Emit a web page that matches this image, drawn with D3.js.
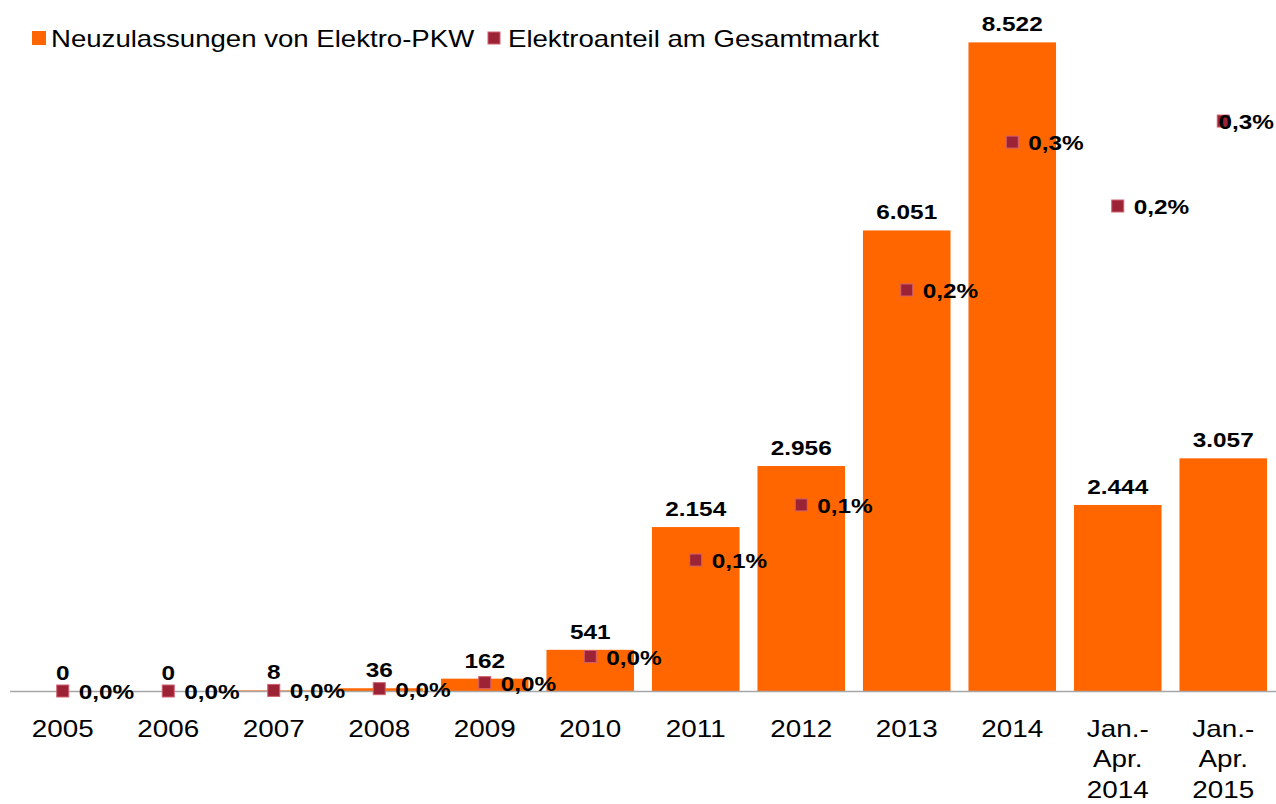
<!DOCTYPE html>
<html>
<head>
<meta charset="utf-8">
<script src="https://cdn.jsdelivr.net/npm/d3@7"></script>
<style>
  body { margin: 0; background: #fff; }
  svg { display: block; font-family: "Liberation Sans", Arial, sans-serif; }
</style>
</head>
<body>
<svg id="chart" width="1276" height="804"></svg>
<script>
// categories (multi-line labels split into lines)
var categories = ["2005", "2006", "2007", "2008", "2009", "2010", "2011", "2012", "2013", "2014", "Jan.-Apr. 2014", "Jan.-Apr. 2015"];
var categoryLines = [["2005"], ["2006"], ["2007"], ["2008"], ["2009"], ["2010"], ["2011"], ["2012"], ["2013"], ["2014"], ["Jan.-", "Apr.", "2014"], ["Jan.-", "Apr.", "2015"]];

// new registrations of electric cars
var registrations = [0, 0, 8, 36, 162, 541, 2154, 2956, 6051, 8522, 2444, 3057];
// electric share of total market, in percent
var share = [0, 0, 0.0003, 0.0012, 0.0043, 0.0177, 0.0672, 0.0955, 0.2058, 0.2817, 0.2489, 0.2925];

var legendLabels = ["Neuzulassungen von Elektro-PKW", "Elektroanteil am Gesamtmarkt"];

var W = 1276, H = 804;
var baseY = 691;
var stretch = 1.16; // reference text looks a bit wide

var de = d3.formatLocale({ decimal: ",", thousands: ".", grouping: [3], currency: ["", " €"] });
var fmtInt = de.format(",d");
var fmtPct = de.format(".1f");

var svg = d3.select("#chart");

var x = d3.scaleBand()
  .domain(categories)
  .range([10, 1276])
  .paddingInner(0.17)
  .paddingOuter(0.085);

var y = d3.scaleLinear().domain([0, 9000]).range([baseY, 6]);
var y2 = d3.scaleLinear().domain([0, 0.35]).range([baseY, 9]);

function stretchedText(sel, px, py, sx) {
  return sel.attr("transform", "translate(" + px + "," + py + ") scale(" + (sx || stretch) + ",1)");
}

// bars
svg.append("g").selectAll("rect")
  .data(categories)
  .enter()
  .append("rect")
  .attr("x", function (d) { return x(d); })
  .attr("width", x.bandwidth())
  .attr("y", function (d, i) { return y(registrations[i]); })
  .attr("height", function (d, i) { return baseY - y(registrations[i]); })
  .attr("fill", "#ff6600");

// axis line
svg.append("line")
  .attr("x1", 10).attr("x2", 1276)
  .attr("y1", baseY + 0.5).attr("y2", baseY + 0.5)
  .attr("stroke", "#a6a6a6")
  .attr("stroke-width", 1.5);

// category labels
var xl = svg.append("g").selectAll("text")
  .data(categories)
  .enter()
  .append("text")
  .attr("text-anchor", "middle")
  .attr("font-size", 24)
  .attr("fill", "#000")
  .each(function (d, i) {
    stretchedText(d3.select(this), x(d) + x.bandwidth() / 2, 737);
  });
xl.selectAll("tspan")
  .data(function (d, i) { return categoryLines[i]; })
  .enter()
  .append("tspan")
  .attr("x", 0)
  .attr("y", function (d, j) { return j * 30.5; })
  .text(function (d) { return d; });

// bar value labels
svg.append("g").selectAll("text")
  .data(categories)
  .enter()
  .append("text")
  .attr("text-anchor", "middle")
  .attr("font-size", 21)
  .attr("font-weight", "bold")
  .attr("fill", "#000")
  .each(function (d, i) {
    stretchedText(d3.select(this), x(d) + x.bandwidth() / 2, y(registrations[i]) - 11);
  })
  .text(function (d, i) { return fmtInt(registrations[i]); });

// share markers
svg.append("g").selectAll("rect")
  .data(categories)
  .enter()
  .append("rect")
  .attr("x", function (d) { return x(d) + x.bandwidth() / 2 - 6; })
  .attr("y", function (d, i) { return y2(share[i]) - 6; })
  .attr("width", 12)
  .attr("height", 12)
  .attr("fill", "#9b2335")
  .attr("stroke", "#d06070")
  .attr("stroke-width", 1);

// share labels
svg.append("g").selectAll("text")
  .data(categories)
  .enter()
  .append("text")
  .attr("font-size", 21)
  .attr("font-weight", "bold")
  .attr("fill", "#000")
  .text(function (d, i) { return fmtPct(share[i]) + "%"; })
  .each(function (d, i) {
    var t = d3.select(this);
    var w = this.getComputedTextLength() * stretch;
    var px = x(d) + x.bandwidth() / 2 + 16;
    if (px + w > W - 2) px = W - 2 - w; // keep inside the plot, like the original
    stretchedText(t, px, y2(share[i]) + 8);
  });

// legend
var legend = svg.append("g");
legend.append("rect").attr("x", 32).attr("y", 31).attr("width", 14).attr("height", 14).attr("fill", "#ff6600");
stretchedText(legend.append("text"), 51, 47, 1.2)
  .attr("font-size", 23)
  .text(legendLabels[0]);
legend.append("rect").attr("x", 488).attr("y", 32).attr("width", 12).attr("height", 12)
  .attr("fill", "#9b2335").attr("stroke", "#d06070");
stretchedText(legend.append("text"), 508, 47, 1.2)
  .attr("font-size", 23)
  .text(legendLabels[1]);
</script>
</body>
</html>
